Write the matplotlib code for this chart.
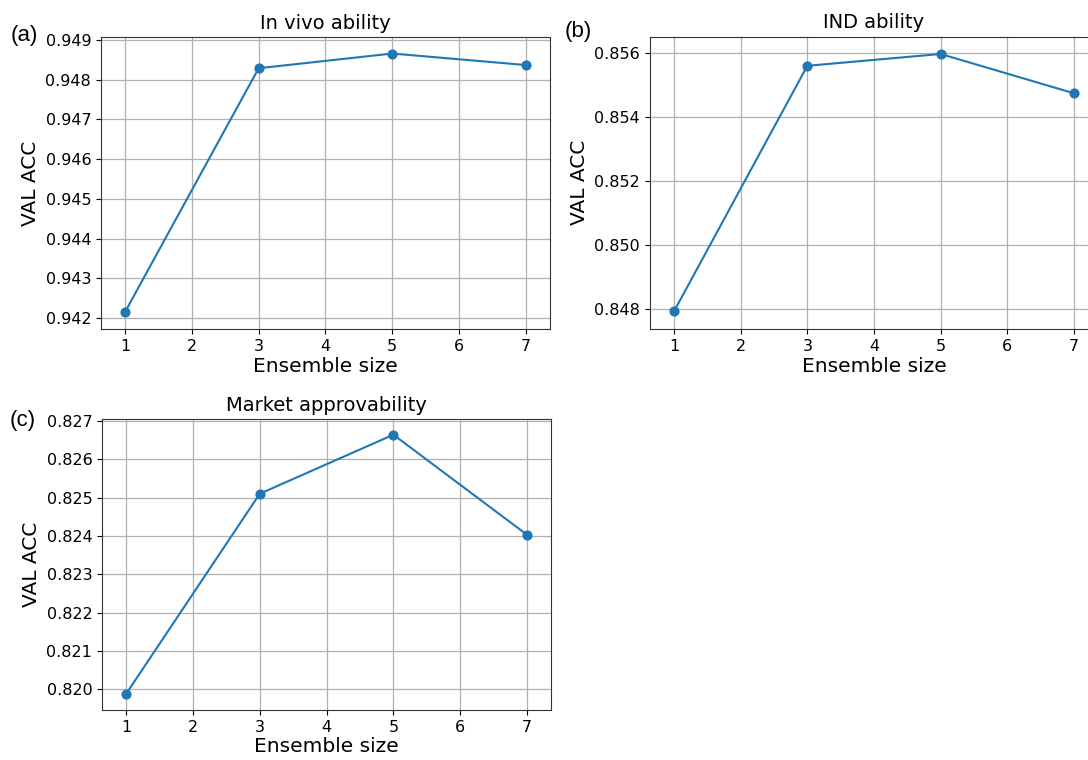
import numpy as np
import matplotlib
matplotlib.use('Agg')
import matplotlib.pyplot as plt
from matplotlib.ticker import FormatStrFormatter, MultipleLocator

# ensemble sizes on the x axis
ensemble_size = [1, 3, 5, 7]

# validation accuracy for each task
in_vivo_acc = [0.94215, 0.94829, 0.94866, 0.94837]
ind_acc = [0.84793, 0.85561, 0.85598, 0.85475]
market_acc = [0.81988, 0.82510, 0.82664, 0.82403]

titles = ['In vivo ability', 'IND ability', 'Market approvability']
panel_labels = ['(a)', '(b)', '(c)']

fig = plt.figure(figsize=(10.88, 7.60), dpi=100)

# axes positions in figure fractions (b is partly cut off on the right)
ax_a = fig.add_axes([0.0928, 0.5671, 0.4127, 0.3842])
ax_b = fig.add_axes([0.5974, 0.5671, 0.4118, 0.3846])
ax_c = fig.add_axes([0.0938, 0.0658, 0.4127, 0.3829])

panels = [
    (ax_a, in_vivo_acc, (0.941723, 0.949076), 0.001),
    (ax_b, ind_acc, (0.84738, 0.85652), 0.002),
    (ax_c, market_acc, (0.81946, 0.82705), 0.001),
]

for (ax, acc, ylim, step), title in zip(panels, titles):
    ax.plot(ensemble_size, acc, color='#1f77b4', linewidth=1.5, zorder=3)
    ax.scatter(ensemble_size, acc, color='#1f77b4', s=40, zorder=4)
    ax.set_xlim(0.64, 7.36)
    ax.set_ylim(*ylim)
    ax.xaxis.set_major_locator(MultipleLocator(1))
    ax.yaxis.set_major_locator(MultipleLocator(step))
    ax.yaxis.set_major_formatter(FormatStrFormatter('%.3f'))
    ax.tick_params(labelsize=11.5)
    ax.set_xlabel('Ensemble size', fontsize=14.5, labelpad=2)
    ax.set_ylabel('VAL ACC', fontsize=14.5)
    ax.set_title(title, fontsize=14)
    ax.grid(True, color='#b0b0b0', linewidth=0.9)
    ax.set_axisbelow(True)
    for sp in ax.spines.values():
        sp.set_color('#333333')

# panel letters
fig.text(11 / 1088, 1 - 35 / 760, panel_labels[0], fontsize=16,
         family='Liberation Sans', va='center')
fig.text(565 / 1088, 1 - 31 / 760, panel_labels[1], fontsize=16,
         family='Liberation Sans', va='center')
fig.text(10 / 1088, 1 - 420 / 760, panel_labels[2], fontsize=16,
         family='Liberation Sans', va='center')

plt.savefig('out.png', dpi=100)
